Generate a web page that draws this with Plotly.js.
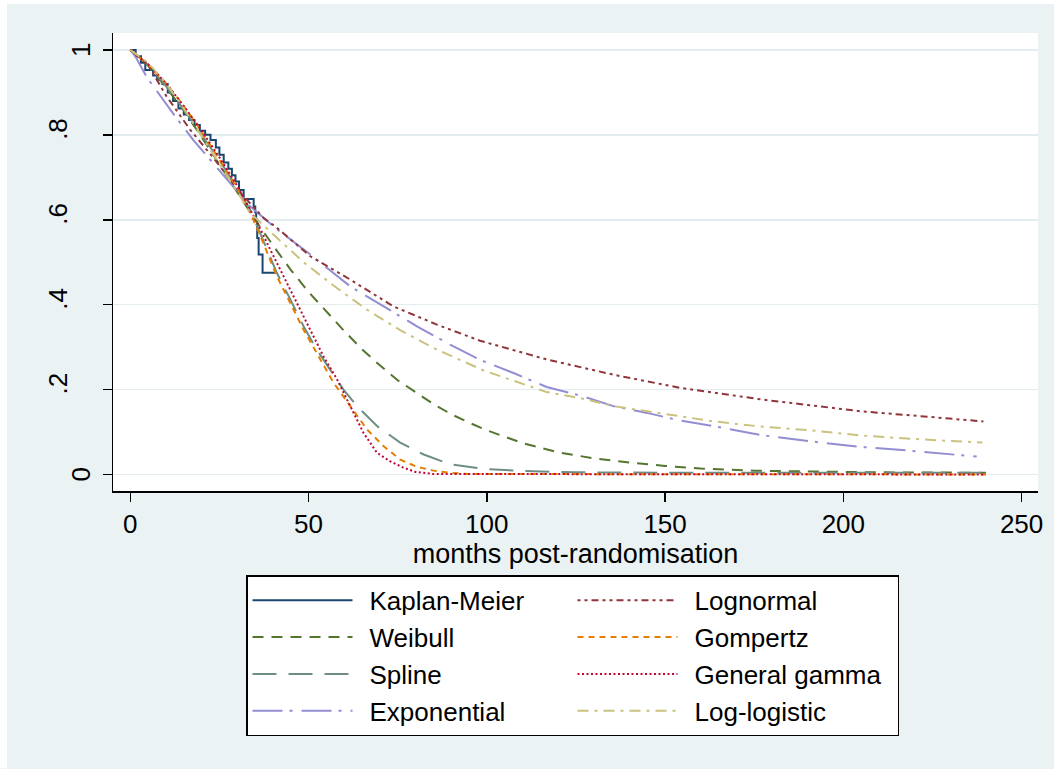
<!DOCTYPE html>
<html>
<head>
<meta charset="utf-8">
<script src="https://cdn.plot.ly/plotly-3.0.1.min.js"></script>
<style>html,body{margin:0;padding:0;background:#EAF2F3;}</style>
</head>
<body>
<div id="chart" style="width:1054px;height:769px;"></div>
<script>
// ---- data ----
var seriesNames = ["Kaplan-Meier","Weibull","Spline","Exponential","Lognormal","Gompertz","General gamma","Log-logistic"];

var kmT = [0,1.5,3,4.2,6.4,7.5,9,10.5,12,13.5,15,16.5,18,19.5,21,22.5,24,25,26.2,27.5,28.5,29.5,30.5,31.8,34.6,35.05,35.3,35.6,36,37.1,41.1];
var kmS = [1,0.985,0.97,0.953,0.94,0.93,0.92,0.9,0.88,0.862,0.848,0.835,0.823,0.81,0.8,0.788,0.77,0.753,0.735,0.72,0.705,0.69,0.67,0.649,0.631,0.618,0.6,0.557,0.518,0.475,0.475];

var weibullT = [0,5,10,15,20,25,30,35,40,45,50,55,60,65,70,75,80,85,90,95,100,110,120,130,140,150,160,175,190,210,240];
var weibullS = [1,0.963,0.912,0.857,0.795,0.73,0.664,0.6,0.54,0.482,0.43,0.383,0.338,0.295,0.257,0.222,0.193,0.166,0.142,0.122,0.104,0.074,0.052,0.038,0.028,0.02,0.014,0.009,0.007,0.005,0.004];

var splineT = [0,5,10,15,20,25,30,33.6,37.4,41.1,44.9,48.6,52.3,56.1,59.8,63.6,69.2,75.7,82.3,89.7,99.1,110,125,150,180,210,240];
var splineS = [1,0.965,0.915,0.86,0.8,0.74,0.675,0.624,0.549,0.475,0.412,0.349,0.294,0.247,0.2,0.161,0.114,0.075,0.047,0.024,0.013,0.008,0.005,0.004,0.004,0.004,0.004];

var expT = [0,1.4,4.7,8.4,13.1,17.75,22.4,27.1,33.7,41.1,50.5,61.7,71,80.4,89.7,98.1,107.5,116.8,126.2,135.5,144.9,154.2,163.6,176.7,190.7,204.7,218.7,237.4];
var expS = [1,0.985,0.935,0.892,0.838,0.787,0.742,0.695,0.631,0.578,0.518,0.443,0.396,0.349,0.306,0.27,0.239,0.206,0.186,0.161,0.145,0.127,0.114,0.093,0.078,0.065,0.056,0.042];

var lognT = [0,5,10,16.8,23.4,30,37.4,40.7,50.5,61.7,73.8,86,98.1,116.8,135.5,154.2,176.7,204.7,239.3];
var lognS = [1,0.965,0.893,0.812,0.745,0.672,0.604,0.584,0.514,0.459,0.396,0.353,0.315,0.271,0.235,0.204,0.177,0.149,0.125];

var gompT = [0,5,10,15,20,25,30,33,36.5,41.1,44.9,48.6,52.3,57,61.7,66.4,71,75.7,80.4,85,89.7,95,240];
var gompS = [1,0.966,0.922,0.868,0.808,0.743,0.675,0.628,0.562,0.467,0.404,0.341,0.286,0.216,0.161,0.106,0.067,0.035,0.018,0.009,0.004,0.001,0];

var ggamT = [0,5,10,15,20,25,30,35.5,39.3,43,46.7,50.5,54.2,58,61.7,65.4,69.2,72.9,76.6,80,85,240];
var ggamS = [1,0.966,0.922,0.868,0.81,0.747,0.68,0.595,0.529,0.467,0.404,0.341,0.278,0.224,0.161,0.098,0.051,0.031,0.016,0.006,0.001,0];

var llogT = [0,5,10,15,20,25,30,33.6,39.3,43,48.6,57,66.4,75.7,85,99.1,107.5,116.8,126.2,135.5,144.9,154.2,163.6,176.7,190.7,204.7,218.7,239];
var llogS = [1,0.97,0.922,0.862,0.797,0.732,0.666,0.616,0.572,0.542,0.5,0.445,0.388,0.34,0.298,0.245,0.22,0.194,0.18,0.161,0.149,0.137,0.125,0.113,0.104,0.092,0.084,0.075];

var xTickVals = [0,50,100,150,200,250];
var yTickVals = [0,0.2,0.4,0.6,0.8,1];
var yTickText = ["0",".2",".4",".6",".8","1"];
var xTitle = "months post-randomisation";

// ---- styles ----
var FONT = "Liberation Sans, Arial, sans-serif";
var styles = [
  {c:"#1a476f", d:"solid", rank:1, shape:"hv"},
  {c:"#55752f", d:"11px,8px", rank:3},
  {c:"#6e8e84", d:"24px,12px", rank:5},
  {c:"#938dd2", d:"30px,7px,3px,9px", rank:7},
  {c:"#90353b", d:"3px,4px,3px,4px,7px,4px", rank:2},
  {c:"#e37e00", d:"6px,5px", rank:4},
  {c:"#c10534", d:"2px,2.5px", rank:6},
  {c:"#cac27e", d:"11px,6px,3px,6px", rank:8}
];
var xs = [kmT, weibullT, splineT, expT, lognT, gompT, ggamT, llogT];
var ys = [kmS, weibullS, splineS, expS, lognS, gompS, ggamS, llogS];

var traces = seriesNames.map(function(n, i){
  return {
    type: "scatter", mode: "lines", name: n,
    x: xs[i], y: ys[i],
    legendrank: styles[i].rank,
    line: {color: styles[i].c, width: 2, dash: styles[i].d, shape: styles[i].shape || "linear"},
    hoverinfo: "x+y+name"
  };
});

// geometry helpers (pixels of the plot area)
var L = 113, R = 1038, T = 33, B = 491.5;
var W = R - L, H = B - T;
function px2x(p){ return (p - L) / W; }
function py2y(p){ return (B - p) / H; }

var annotations = yTickVals.map(function(v, i){
  var dotted = yTickText[i].charAt(0) === ".";
  return {
    xref: "paper", yref: "y", x: px2x(dotted ? 58 : 81), y: v,
    yshift: dotted ? 6 : 0,
    text: yTickText[i], showarrow: false, textangle: -90,
    xanchor: "center", yanchor: "middle",
    font: {family: FONT, size: 26, color: "#000"}
  };
});

var shapes = [
  {type:"rect", xref:"paper", yref:"paper", layer:"below", x0:px2x(0), x1:px2x(7), y0:py2y(769), y1:py2y(0), fillcolor:"#ffffff", line:{width:0}},
  {type:"rect", xref:"paper", yref:"paper", layer:"below", x0:px2x(0), x1:px2x(1054), y0:py2y(4), y1:py2y(0), fillcolor:"#ffffff", line:{width:0}}
];

var layout = {
  width: 1054, height: 769,
  paper_bgcolor: "#EAF2F3", plot_bgcolor: "#ffffff",
  margin: {l: L, r: 1054 - R, t: T, b: 769 - B, pad: 0, autoexpand: false},
  font: {family: FONT, color: "#000"},
  showlegend: true,
  xaxis: {
    range: [-4.85, 254.6], tickvals: xTickVals, ticks: "outside", ticklen: 9, tickwidth: 1.5, tickcolor: "#000",
    showline: true, linecolor: "#000", linewidth: 1.5, showgrid: false, zeroline: false,
    tickfont: {family: FONT, size: 26, color: "#000"},
    title: {text: xTitle, font: {family: FONT, size: 27, color: "#000"}, standoff: 0}
  },
  yaxis: {
    range: [-0.039, 1.04], tickvals: yTickVals, showticklabels: false, ticks: "outside", ticklen: 9, tickwidth: 1.5, tickcolor: "#000",
    showline: true, linecolor: "#000", linewidth: 1.5, showgrid: true, gridcolor: "#E3ECEF", gridwidth: 1.5, zeroline: false
  },
  legend: {
    orientation: "h", x: px2x(246), y: py2y(576), xanchor: "left", yanchor: "top",
    entrywidth: 198, entrywidthmode: "pixels", itemwidth: 112,
    bgcolor: "#ffffff", bordercolor: "#000", borderwidth: 1.5,
    font: {family: FONT, size: 26, color: "#000"}, traceorder: "normal"
  },
  annotations: annotations,
  shapes: shapes
};

Plotly.newPlot("chart", traces, layout, {displayModeBar: false, staticPlot: true}).then(function(gd){
  // lengthen legend line samples to match the reference
  var paths = gd.querySelectorAll(".legend .legendlines path");
  paths.forEach(function(p){ p.setAttribute("d", "M5,0h100"); });
});
</script>
</body>
</html>
